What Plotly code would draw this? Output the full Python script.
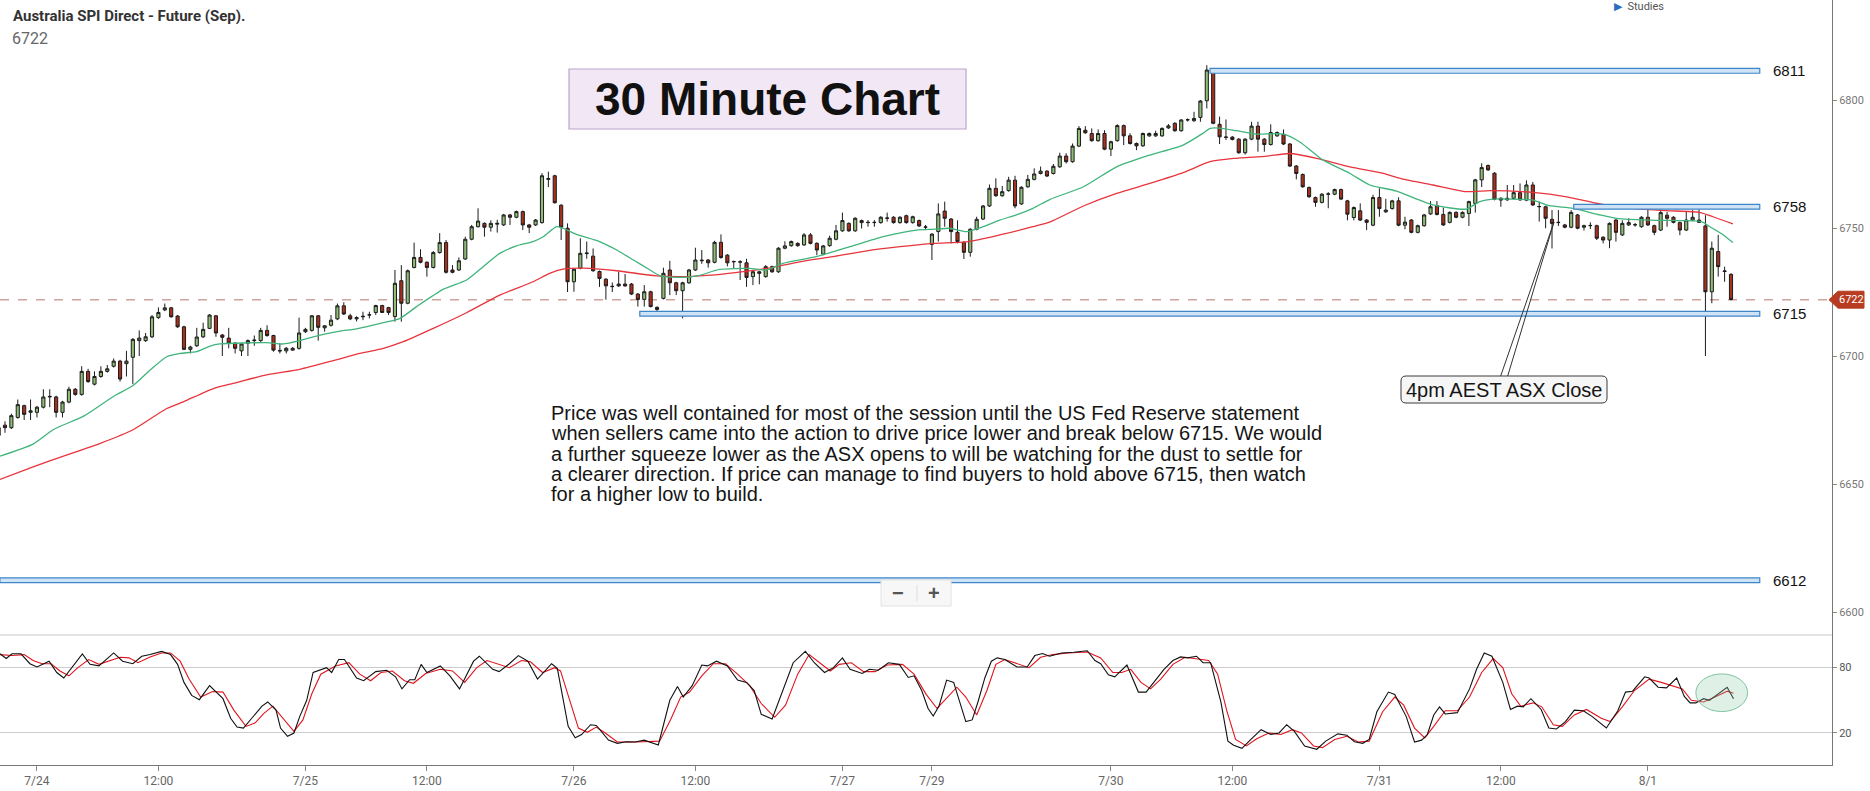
import plotly.graph_objects as go

# ---------------- data ----------------
bar_open = [6672,6673,6672,6676,6680.6,6678,6678,6680,6684,6684,6678,6682,6687,6685,6694,6689,6692,6694,6696,6698,
6697,6699.5,6706,6706,6707.5,6715,6718,6718.8,6715.6,6711.4,6702.6,6704,6707.5,6710.8,6715.7,6708.2,6707,6705,6702,6705,
6706,6706,6710,6708,6702.2,6702,6702.3,6703,6709.5,6710,6715.7,6711,6712,6714.5,6719.6,6715.7,6714.5,6715.3,6716,6717,
6719.7,6718.9,6715.4,6729.4,6720.6,6734.6,6738.5,6736.6,6734.6,6740.4,6744.3,6733.6,6733.6,6737.9,6745.6,6750.5,6751.8,6750.3,6751.5,6751.2,
6755.1,6754.2,6756.4,6751.2,6751.2,6752.1,6769,6770.4,6758.9,6749.9,6729,6734.3,6740,6739,6733,6730,6727.1,6728.1,6728.1,6728.1,
6724.2,6722.1,6725.1,6719,6722.5,6733.6,6728.6,6725.5,6728.6,6733.6,6737.2,6737.5,6736.6,6744.4,6739.4,6736.8,6736.8,6736.4,6731,6732.9,
6731,6734.9,6732.9,6742.1,6743.1,6744,6743.4,6747.3,6744,6739.8,6743.1,6745.6,6748.9,6751.8,6748.9,6752.9,6752.1,6752.1,6752.1,6753.8,
6754.2,6752.1,6754.8,6752.1,6752.9,6750.3,6743.6,6748.6,6756.6,6753.5,6748.3,6744.4,6740.5,6749.5,6753.5,6758.6,6765.5,6762.6,6764.6,6768.7,
6759.4,6766.1,6769,6771.3,6772.2,6771.3,6773.9,6778.1,6775.9,6782,6788.2,6786.9,6784.1,6786.9,6780.8,6784.1,6790,6786,6783,6782.1,
6786,6786,6786,6789.1,6790.9,6788,6792.2,6791.9,6793.2,6799.7,6811.7,6790.5,6785.4,6785.5,6784.7,6779.4,6784.7,6789.8,6784.7,6782.6,
6786,6786.6,6782.8,6774.2,6770.9,6765.8,6761.9,6760,6763.2,6763.2,6765,6760.6,6754.1,6756.7,6753.1,6751.1,6761.9,6756.3,6757.6,6760.6,
6751.1,6753.1,6748.3,6750.9,6755.5,6758.7,6755.3,6752.2,6756.1,6754.2,6755.7,6759.6,6768.8,6774.4,6771.4,6761.6,6761,6761.6,6763.8,6760.9,
6766.8,6758.3,6758.3,6753.4,6752.1,6751.2,6750.3,6755.1,6750.3,6750.9,6750.9,6746.4,6745.3,6753.1,6747.3,6751.2,6751.2,6750.5,6754.2,6750.9,
6749.2,6755,6754.2,6752.1,6749.2,6753.1,6753.1,6750.8,6725.1,6740.8,6733,6731.9]
bar_high = [6674,6674.5,6677.5,6683,6681,6683,6680.5,6687,6687,6684.5,6682.5,6688,6687.5,6696,6695,6694,6696,6696.5,6699,6698.5,
6702,6707,6710,6709,6716,6719,6720.5,6719.2,6716,6711.8,6704,6711,6713,6716.3,6716,6708.6,6711,6705.4,6705,6706.5,
6708,6711,6712,6708.3,6705,6703.5,6703.5,6715,6711,6716,6716,6712,6716,6720.5,6721,6716.5,6715.5,6717.3,6717.3,6720,
6720,6719.2,6733.6,6735.5,6733.8,6744.3,6741.7,6737,6741,6748,6745.3,6735.5,6738.5,6746.6,6751.2,6757.7,6752.2,6753,6753.2,6755.5,
6755.5,6756.8,6756.8,6751.6,6753.5,6771.4,6772,6770.8,6759.3,6751.8,6734.3,6746,6744.7,6742,6733.4,6730.4,6728.7,6733,6732,6728.5,
6724.6,6727.7,6725.5,6719.4,6734.5,6737.2,6729,6729,6734,6742.3,6741.4,6737.9,6745,6747.5,6739.8,6737.3,6737.4,6738,6733.3,6733.3,
6735.5,6735.3,6742.5,6744.8,6745.1,6744.4,6748,6748,6744.4,6743.4,6747,6751.2,6756,6752.2,6754.2,6753.3,6753.1,6753.1,6754.6,6756,
6754.6,6754.6,6755.2,6754.8,6753.3,6751.2,6748,6759.6,6760.3,6753.9,6753,6744.8,6749.9,6754.4,6759,6767,6769.4,6766.4,6770,6770.4,
6766.3,6770.7,6773.3,6774,6772.6,6775,6779.4,6779.2,6783,6789.8,6789.8,6788.9,6788.5,6788.2,6784.1,6790.5,6790.4,6787,6783.4,6787.3,
6787.3,6788,6789.3,6790.6,6791.3,6792.5,6792.8,6795.4,6800,6813.6,6812,6793.5,6792.4,6785.9,6785.1,6785.1,6791.5,6791.5,6785.1,6790.5,
6787.7,6788.5,6783.2,6774.6,6771.3,6766.2,6762.3,6763.6,6764,6765.4,6765.4,6761,6758.4,6759.6,6753.5,6763,6765.5,6761.4,6761,6762,
6754.4,6753.5,6751.3,6755.5,6760.5,6760.5,6758,6756.5,6756.5,6756.5,6760.7,6769.2,6775.3,6774.8,6771.8,6762,6766.8,6766.8,6767.4,6768.6,
6768,6760.3,6758.7,6757,6757,6751.6,6757,6755.5,6751.3,6752.2,6751.3,6746.8,6752.2,6753.5,6753,6753.8,6752,6754.6,6757.3,6751.3,
6759,6756.3,6754.6,6752.5,6756.4,6757,6757.7,6755,6744.7,6747.3,6734.9,6732.3]
bar_low = [6668,6670,6671.5,6675.5,6675,6675,6676,6679.5,6680,6676,6676,6681.5,6684.5,6684.5,6689.5,6688.5,6691.5,6693.5,6695.5,6690,
6692,6689,6700,6705.5,6707,6714.5,6717.5,6715,6711,6702.3,6701,6703.5,6707,6710.5,6707.5,6700,6703,6701,6700,6700,
6704,6705.5,6707.5,6701.7,6701,6701,6702,6702.5,6709,6709.5,6706,6709.5,6711.5,6714,6716,6714,6713.5,6714,6714.7,6716,
6716.8,6716,6713.4,6713.4,6720.2,6734.2,6736.2,6731,6734.2,6740,6732.2,6732.3,6733.2,6737.5,6745.2,6750.2,6746.6,6748.6,6748.2,6750.8,
6751.2,6753.8,6749.2,6748,6750.8,6751.7,6766,6759.5,6745.3,6725,6725.1,6733.9,6738,6732.9,6727,6722,6725,6727,6727,6723.8,
6719.3,6719.3,6719,6717.3,6722.1,6723.8,6723.8,6714.7,6728.2,6733.2,6736,6734.5,6736.2,6738,6735,6734,6729.7,6727,6727.7,6728,
6730.6,6732.5,6732.5,6741.7,6742.7,6742.7,6743,6743.6,6739.4,6739.4,6742.7,6745.2,6748.5,6748.5,6748.5,6749.8,6750.5,6750.5,6751.7,6752.5,
6751.7,6751.7,6751.7,6751.7,6750.4,6749.2,6737.5,6744.7,6750.5,6744,6744,6737.9,6738.8,6749.1,6753.1,6758.2,6762.2,6762.2,6764.2,6757.7,
6759,6765.7,6768.6,6770.9,6769.9,6770.9,6773.5,6775.2,6775.5,6781.6,6786.8,6783.7,6783.7,6780.4,6778.1,6783.7,6782.4,6782.6,6780.4,6781.7,
6785.6,6785.6,6785.6,6788.7,6787.6,6787.6,6791.6,6791.5,6791.5,6796.7,6790.5,6782.8,6784.4,6784.2,6779,6778.7,6784.3,6779.8,6779.8,6782.2,
6785.6,6782.4,6773.8,6769,6765.7,6761.8,6758.3,6759.6,6757.7,6762.8,6760.9,6753,6753,6752.7,6749.2,6750.7,6754.4,6755.9,6757.2,6750.7,
6749.5,6747.9,6747.9,6750.5,6755.1,6754.9,6750.8,6751.8,6753.8,6753.8,6750.8,6756,6766,6772.3,6760.8,6758.3,6760.6,6761.2,6760.6,6760.5,
6758.6,6752.5,6749.9,6742,6750.8,6749.9,6749.9,6749.5,6749,6749.6,6745.3,6744,6742.1,6744.7,6746.9,6750.8,6750.5,6750.1,6750.8,6747.2,
6748.8,6750.5,6751.8,6747.2,6748.8,6752.7,6752,6700,6720.6,6731,6729,6721.7]
bar_close = [6669,6672,6676.7,6681,6677.2,6678.6,6680,6684,6684.2,6678,6682,6687,6685,6694,6690,6692,6694,6695,6698,6691,
6698,6706.5,6707,6707.5,6715.3,6717,6718.8,6715.3,6711.4,6702.6,6703.5,6707.4,6710.4,6716,6709,6707.3,6705,6703,6704.7,6706,
6706.2,6710,6708,6702.3,6702,6703,6703,6709,6710.4,6715.7,6711.2,6711.8,6714,6719.6,6716.4,6714.5,6715,6715.5,6716.1,6719.7,
6717,6717,6728.4,6720.6,6733.3,6738.5,6736.6,6734.6,6740.4,6744.3,6732.7,6732.7,6737.2,6745.6,6750.5,6752.7,6750.3,6751.8,6751.8,6755.1,
6754.2,6756.4,6751.2,6750.3,6753.1,6770.4,6769.3,6759.9,6750.3,6729,6733.9,6740.1,6740.2,6733.3,6730.3,6727.4,6727.2,6727.4,6727.4,6724.2,
6722.1,6725.1,6719.3,6718.2,6732.3,6728.6,6725.5,6728.6,6733.6,6737.5,6737.4,6736.4,6744.4,6738.5,6736.4,6736.9,6736.7,6730.7,6732.9,6732.3,
6734.9,6732.9,6742.1,6743,6744.7,6743.1,6747.3,6744,6741.4,6743,6746,6748.9,6752.9,6748.9,6753.8,6752.1,6752.2,6752.2,6754.2,6753.9,
6752.1,6754.2,6752.1,6754.4,6750.8,6750.4,6747.6,6755.5,6753.8,6748.6,6744.7,6740.5,6749.5,6753.4,6758.6,6765.5,6762.6,6764.2,6768.7,6758.6,
6765.9,6769,6771.1,6772.2,6770.3,6774.1,6778.1,6775.9,6782,6788.9,6787.2,6784.1,6786.9,6780.8,6783.7,6790,6786,6783,6782.1,6786.9,
6786.9,6786.9,6788.9,6789.9,6788,6792.2,6792.3,6792.8,6799.6,6811.7,6790.9,6785.6,6785.5,6784.6,6779.4,6784.7,6789.8,6784.7,6782.6,6787.3,
6787.3,6782.8,6774.2,6771.3,6766.1,6762.2,6760,6763.2,6763.3,6765,6761.3,6755.4,6758,6753.1,6752.2,6761.9,6757.6,6757,6760.6,6751.1,
6752.3,6748.3,6750.9,6755.1,6758.3,6755.3,6751.2,6756.1,6754.2,6756.1,6760.3,6768.8,6773.6,6772.7,6761.2,6760.9,6761.6,6763.8,6761,6766.8,
6759,6758.4,6753.8,6751.8,6752.2,6750.3,6756.1,6749.9,6750.9,6751,6746,6745.3,6751.8,6748.3,6751.8,6752.1,6751.3,6754.2,6751.2,6748.3,
6756,6753.8,6752.2,6749.2,6753.1,6754.2,6752.2,6725.1,6742.1,6734.9,6733.2,6722.1]
bar_index = list(range(len(bar_close)))

# moving averages (bar index, price)
ma_fast_idx = [0.2,5.4,8.6,13.3,17.9,21.1,23.7,26.3,28.4,31.0,33.1,34.6,41.9,44.5,47.1,50.3,53.4,56.0,60.2,62.8,
65.4,69.6,73.2,75.8,78.4,81.0,83.6,85.2,87.3,88.3,90.4,94.0,96.7,99.3,101.9,103.5,107.1,109.5,112.8,117.5,
120.1,122.7,127.9,133.2,138.4,143.6,146.2,148.8,151.4,154.0,156.6,159.2,161.8,164.5,169.7,174.9,180.1,185.3,188.4,189.5,
191.0,193.6,196.8,201.0,203.5,207.2,211.4,214.5,218.7,224.4,229.6,231.7,233.8,236.4,240.0,242.6,246.3,250.5,253.1,258.3,
263.5,266.4,267.7,269.8,271.3]
ma_fast_val = [6660.9,6665.6,6671.3,6676.5,6684.1,6688.6,6694.5,6699.7,6701,6701.7,6703.9,6704.7,6705.2,6704.7,6706,6708.2,6709.7,6710.6,6713,6714.7,
6719.3,6726.1,6729.7,6734.9,6740.1,6743,6744.7,6746.6,6750.5,6749.9,6747.5,6744.7,6741.4,6737.5,6733.6,6731.3,6730.7,6731.4,6733.8,6734.2,
6733.6,6736.2,6738.8,6742.7,6746.6,6749.2,6749.5,6749.9,6748.6,6750.5,6753.1,6755.1,6757.7,6761.2,6766.1,6773.9,6778.5,6782.4,6787,6788.9,
6789,6788,6786.7,6786.7,6783.7,6776.5,6771.3,6766.8,6764.4,6759,6757.4,6760.3,6761.3,6761.3,6760.9,6758.7,6757.7,6755.1,6753.8,6753.1,
6752.9,6752.5,6750.5,6747.3,6744.3]
ma_slow_idx = [0.2,5.4,10.6,15.9,21.1,26.3,28.9,33.6,36.7,41.9,47.1,52.4,56.5,60.2,63.3,68.0,73.2,78.4,83.6,86.2,
88.3,91.5,96.7,102.9,107.1,111.5,114.9,120.1,125.3,130.5,135.8,141.0,146.2,151.4,156.6,161.8,164.5,169.7,174.9,180.1,
185.3,189.5,193.2,198.4,202.0,206.2,211.4,216.6,219.5,224.4,229.6,233.3,240.0,245.3,250.5,255.7,260.9,266.1,268.2,271.3]
ma_slow_val = [6651.8,6656.7,6661.3,6665.9,6671.3,6679.5,6682.1,6687.3,6689.3,6692.6,6694.8,6698.2,6701,6703,6705.6,6710.8,6716.9,6723.8,6729,6732.3,
6733.9,6734.3,6733.3,6731.3,6731,6731.6,6732.5,6734.2,6736.8,6738.8,6741.1,6742.7,6744,6744.6,6747.3,6750.5,6752.4,6758.6,6763.5,6767.4,
6771.6,6775.9,6777.2,6778.1,6779.1,6777.2,6773.9,6771.3,6769.2,6766.8,6764.2,6764.6,6763.9,6762.2,6759.4,6757.7,6756.8,6756.1,6754.4,6751.6]

# stochastic %K (black) and %D (red)
stoch_k_idx = [0.2,1.2,2.1,3.5,4.9,6.0,7.9,9.1,10.2,11.5,13.1,14.3,15.7,18.0,19.4,21.0,22.4,23.7,25.5,26.9,
28.0,29.0,30.2,31.4,33.0,35.1,36.3,37.3,38.3,39.6,41.2,42.1,43.4,44.1,45.2,46.2,47.1,48.2,49.2,51.3,
52.1,53.2,54.1,56.0,57.1,59.0,60.7,62.1,63.1,64.3,65.1,66.1,67.0,69.1,70.6,72.1,74.3,75.2,77.3,78.3,
79.9,81.3,82.8,84.3,85.8,86.5,87.4,89.1,90.2,91.2,92.6,93.5,95.4,96.8,98.2,99.6,101.0,102.0,103.2,105.0,
106.2,107.1,108.5,110.0,110.9,112.3,114.0,115.6,117.0,118.2,119.3,121.0,122.6,124.3,126.2,127.6,129.2,130.6,132.0,133.2,
135.1,136.2,137.6,139.2,140.9,142.3,143.2,144.4,145.4,146.2,
147.1,148.3,149.4,151.3,152.3,153.2,154.3,155.3,156.2,157.4,159.3,160.9,162.1,163.3,164.4,166.3,168.2,170.3,171.5,172.4,
173.6,174.6,176.5,178.3,179.5,180.9,182.3,183.7,184.9,186.0,187.4,188.4,189.6,191.2,192.3,193.2,194.5,195.9,197.5,199.0,
200.3,201.5,202.7,204.3,206.2,207.6,209.5,210.9,212.1,213.4,214.4,215.6,217.4,218.4,220.2,221.5,222.6,223.5,224.5,225.4,
226.3,228.2,230.1,231.2,232.4,233.6,235.3,236.5,237.6,238.5,239.7,241.3,242.5,243.7,245.1,246.5,247.9,249.3,251.5,253.3,
254.5,255.6,257.5,258.2,259.6,260.9,262.5,263.7,264.6,265.5,266.7,267.6,270.4,271.4]
stoch_k_val = [92.2,87.7,92,92,83,80,85.3,75,70,80,92,82.4,81,92.8,85.3,83,89.8,91.3,94.2,91.3,
82.4,66,54.2,50.3,63,51.2,33.4,25.4,24.5,33.4,44.4,48.2,40.8,24.5,17,20,34.9,49.7,75,79.4,
75,86.8,86.8,70,67.5,75.8,77,71.1,60.1,68.4,68.4,82.4,75,81,72,60.1,85.3,89.8,77.9,75.8,
83,90.4,85.3,69,77.9,83,78.8,26,15.6,18.6,27.5,26.9,13.5,10.6,12,11.8,13.5,11.8,9.1,49.7,
62.2,52.7,63,81.8,81,85.3,81,68.1,66,58.6,37,32.8,57.2,83.9,94.2,83.9,75,79.4,88.3,77.9,
74.1,77.9,77,83.9,82.4,70.5,72,58.6,42.3,35.5,
44.4,68.1,66,30.4,31.9,48.2,70.5,85.3,88.3,86.8,80,80,90.4,92.2,89.8,92.8,93.4,94.8,85.9,83,
72.9,71.1,81.8,57.2,57.2,67.5,77.9,85.9,89.2,88.3,89.8,83.9,83.9,48.2,12.6,8.8,6.1,14.1,23,18.6,
20,27.5,21.5,8.2,5.2,12.6,19.2,18,12,10.6,14.1,39.3,57.2,55.1,34.9,11.8,13.5,18.6,36.4,43.8,
37.3,38.5,60.1,77.9,92.8,89.8,66,41.4,44.4,43.8,51.2,41.4,24.5,23.6,30.4,40.8,40.2,34.9,24.5,40.2,
57.2,58,71.1,70,61.6,61,70,53.3,47.4,47.4,51.2,49.7,61.6,51.2]
stoch_d_idx = [0.2,2.1,4.0,5.4,6.8,8.2,9.6,11.0,12.4,14.1,15.7,17.1,19.0,20.4,21.8,23.7,25.5,26.9,28.4,29.8,
31.6,33.5,35.1,36.8,38.7,40.1,41.5,42.9,44.3,46.2,47.6,49.0,50.4,52.7,54.8,56.5,58.2,59.8,61.6,63.5,
64.9,66.8,69.1,71.0,72.9,74.8,76.4,78.1,79.9,81.8,83.2,85.1,87.0,87.9,89.3,90.7,92.1,93.5,94.9,96.8,
99.6,102.0,103.4,105.1,106.7,108.1,110.0,111.8,113.7,115.6,117.5,119.3,121.4,123.1,125.0,126.8,128.2,130.1,131.5,133.4,
135.3,137.1,139.0,141.4,143.2,145.1,
146.8,148.3,149.9,151.3,153.0,154.6,156.0,157.4,158.8,161.2,163.0,164.9,167.3,170.3,172.4,174.3,175.7,177.1,178.7,180.2,
181.8,183.7,185.6,187.4,189.3,190.7,192.1,193.5,195.2,196.8,198.7,200.6,202.4,203.8,205.7,207.1,209.0,210.9,212.7,214.4,
216.5,218.4,219.8,221.5,223.1,224.5,226.3,228.2,230.1,232.0,233.8,235.3,236.7,238.1,240.0,241.4,243.2,244.6,246.5,248.4,
250.7,252.1,254.0,255.9,258.2,260.1,262.0,263.4,264.8,266.7,268.5,270.4,271.4]
stoch_d_val = [91.3,90.4,91.3,85.9,83,83,76.4,72,79.4,86.8,82.4,85.3,88.9,88.3,83.9,89.2,92.8,92.8,85.3,69,
52.7,57.7,57.2,40.8,26,29,37.9,44.4,34.9,21.5,31.9,55.7,73.5,81,83.9,73.5,67.5,75,76.4,67.5,
65.2,74.1,77.9,76.4,66,79.4,85.9,82.4,79.4,85.9,84.7,75,79.4,76.4,49.7,24.5,20.6,25.4,20,11.8,
11.8,12,12.6,31.9,52.7,57.2,72,83,83,73.5,63,46.8,34.3,45.3,73.5,91.3,85.3,76.4,82.4,83.9,
75.8,75.8,81.8,82.4,73.5,55.1,
42.3,51.2,61.6,52.7,36.4,58.6,82.4,86.8,83.9,79.4,88.9,91.3,92.8,93.6,88.3,75,75,77.9,66,60.1,
69,82.4,88.9,87.7,85.9,73.5,40.8,14.1,8.2,14.7,20,18.6,23,20,8.2,6.7,14.1,17,11.8,12.6,
39.3,52.7,45.3,24.5,15.6,26,40.2,40.2,52.7,75,87.7,79.4,55.7,44.4,47.4,43.8,27.5,26,36.4,41.4,
33.4,30.4,43.8,58.6,69,66,63,60.1,49.7,48.2,52.7,58,56.2]

# time axis labels (bar index of each label)
tick_bar = [6,25,48,67,90,109,132,146,174,193,216,235,258]
tick_text = ["7/24","12:00","7/25","12:00","7/26","12:00","7/27","7/29","7/30","12:00","7/31","12:00","8/1"]

# horizontal support / resistance levels (label, drawn price as read, starting bar)
level_label = [6811,6758,6715,6612]
level_price = [6811.4,6758.3,6716.5,6612.4]
level_start_bar = [189.5,246.4,100.3,0.2]
level_end_bar = 275.5
last_price = 6722

price_ticks = [6600,6650,6700,6750,6800]
stoch_ticks = [20,80]

note_lines = [
    "Price was well contained for most of the session until the US Fed Reserve statement",
    "when sellers came into the action to drive price lower and break below 6715. We would",
    "a further squeeze lower as the ASX opens to will be watching for the dust to settle for",
    "a clearer direction. If price can manage to find buyers to hold above 6715, then watch",
    "for a higher low to build.",
]

# ---------------- layout helpers ----------------
W, H = 1870, 791
ML, MR, MT, MB = 0, 38, 0, 26
PW, PH = W - ML - MR, H - MT - MB
def px(x):
    return (x - ML) / PW
def py(y):
    return (PH + MT - y) / PH

SPLIT = py(635)
X_RANGE = [0.219, 286.8]
SANS = "Liberation Sans, Arial, sans-serif"
ROBOTO = "Roboto, sans-serif"

fig = go.Figure()

fig.add_trace(go.Candlestick(
    x=bar_index, open=bar_open, high=bar_high, low=bar_low, close=bar_close,
    increasing=dict(fillcolor="#8fbd77", line=dict(color="#1c1c1c", width=1)),
    decreasing=dict(fillcolor="#a8301d", line=dict(color="#1c1c1c", width=1)),
    whiskerwidth=0, xaxis="x", yaxis="y", hoverinfo="skip"))

fig.add_trace(go.Scatter(x=ma_slow_idx, y=ma_slow_val, mode="lines",
    line=dict(color="#e8343c", width=1.3, shape="spline", smoothing=0.6),
    xaxis="x", yaxis="y", hoverinfo="skip"))
fig.add_trace(go.Scatter(x=ma_fast_idx, y=ma_fast_val, mode="lines",
    line=dict(color="#3fb47c", width=1.3, shape="spline", smoothing=0.6),
    xaxis="x", yaxis="y", hoverinfo="skip"))

fig.add_trace(go.Scatter(x=stoch_d_idx, y=stoch_d_val, mode="lines",
    line=dict(color="#e0141e", width=1.1), xaxis="x", yaxis="y2", hoverinfo="skip"))
fig.add_trace(go.Scatter(x=stoch_k_idx, y=stoch_k_val, mode="lines",
    line=dict(color="#111111", width=1.1), xaxis="x", yaxis="y2", hoverinfo="skip"))

shapes = []
# panel separator
shapes.append(dict(type="line", xref="paper", yref="paper", x0=0, x1=1, y0=SPLIT, y1=SPLIT,
                   line=dict(color="#c9c9c9", width=1)))
# last price dashed line
shapes.append(dict(type="line", xref="paper", yref="y", x0=0, x1=1, y0=last_price, y1=last_price,
                   line=dict(color="#d2a39b", width=1.5, dash="dash"), layer="below"))
# level boxes
for lv, sb in zip(level_price, level_start_bar):
    shapes.append(dict(type="rect", xref="x", yref="y", x0=sb, x1=level_end_bar,
                       y0=lv - 0.95, y1=lv + 0.95,
                       fillcolor="#cfe3f6", line=dict(color="#3f86c8", width=1.2)))
# price tag
ty0, ty1 = last_price - 3.3, last_price + 3.3
shapes.append(dict(type="path", xref="paper", yref="y",
    path=f"M {px(1829)},{last_price} L {px(1838)},{ty1} L {px(1864)},{ty1} L {px(1864)},{ty0} L {px(1838)},{ty0} Z",
    fillcolor="#b73c22", line=dict(color="#b73c22", width=1)))
# title box
shapes.append(dict(type="rect", xref="paper", yref="paper", x0=px(569), x1=px(966), y0=py(129), y1=py(69),
                   fillcolor="#f2e8f5", line=dict(color="#bba4cb", width=1.2)))
# callout lines
for xb in (1500.7, 1507.7):
    shapes.append(dict(type="line", xref="paper", yref="paper", x0=px(1554), y0=py(222), x1=px(xb), y1=py(376),
                       line=dict(color="#333333", width=1)))
# callout rounded box
bx0, bx1, by0, by1, r = 1401, 1607, 376, 403, 5
pts = (f"M {px(bx0+r)},{py(by0)} L {px(bx1-r)},{py(by0)} Q {px(bx1)},{py(by0)} {px(bx1)},{py(by0+r)} "
       f"L {px(bx1)},{py(by1-r)} Q {px(bx1)},{py(by1)} {px(bx1-r)},{py(by1)} "
       f"L {px(bx0+r)},{py(by1)} Q {px(bx0)},{py(by1)} {px(bx0)},{py(by1-r)} "
       f"L {px(bx0)},{py(by0+r)} Q {px(bx0)},{py(by0)} {px(bx0+r)},{py(by0)} Z")
shapes.append(dict(type="path", xref="paper", yref="paper", path=pts,
                   fillcolor="#f6f6f6", line=dict(color="#3a3a3a", width=1)))
# zoom buttons
shapes.append(dict(type="rect", xref="paper", yref="paper", x0=px(881), x1=px(951), y0=py(606), y1=py(580),
                   fillcolor="#f7f7f7", line=dict(color="#e2e2e2", width=1)))
shapes.append(dict(type="line", xref="paper", yref="paper", x0=px(917), x1=px(917), y0=py(601), y1=py(585),
                   line=dict(color="#dddddd", width=1)))
# stochastic highlight ellipse
shapes.append(dict(type="circle", xref="x", yref="y2", x0=265.5, x1=273.6, y0=39.5, y1=73.7,
                   fillcolor="rgba(150,205,175,0.30)", line=dict(color="#7fc4a3", width=1)))

ann = []
ann.append(dict(xref="paper", yref="paper", x=px(11), y=py(16), xanchor="left", yanchor="middle",
                text="<b>Australia SPI Direct - Future (Sep).</b>", showarrow=False,
                font=dict(family=ROBOTO, size=15, color="#333333")))
ann.append(dict(xref="paper", yref="paper", x=px(10), y=py(38), xanchor="left", yanchor="middle",
                text=str(last_price), showarrow=False, font=dict(family=ROBOTO, size=16, color="#666666")))
ann.append(dict(xref="paper", yref="paper", x=px(1612), y=py(7), xanchor="left", yanchor="middle",
                text="<span style='color:#2a6fc0'>▶</span>  Studies", showarrow=False,
                font=dict(family=ROBOTO, size=11, color="#555555")))
ann.append(dict(xref="paper", yref="paper", x=px(767.5), y=py(99), xanchor="center", yanchor="middle",
                text="<b>30 Minute Chart</b>", showarrow=False, font=dict(family=SANS, size=46, color="#111111")))
for k, line in enumerate(note_lines):
    ann.append(dict(xref="paper", yref="paper", x=px(549), y=py(413 + 20.3 * k), xanchor="left", yanchor="middle",
                    text=line, showarrow=False, font=dict(family=SANS, size=20, color="#151515")))
ann.append(dict(xref="paper", yref="paper", x=px(1404), y=py(390), xanchor="left", yanchor="middle",
                text="4pm AEST ASX Close", showarrow=False, font=dict(family=SANS, size=20, color="#151515")))
for lab, lv in zip(level_label, level_price):
    ann.append(dict(xref="x", yref="y", x=277.2, y=lv, xanchor="left", yanchor="middle", text=str(lab),
                    showarrow=False, font=dict(family=SANS, size=15, color="#111111")))
ann.append(dict(xref="paper", yref="y", x=px(1851), y=last_price, xanchor="center", yanchor="middle",
                text=str(last_price), showarrow=False, font=dict(family=ROBOTO, size=11, color="#ffffff")))
ann.append(dict(xref="paper", yref="paper", x=px(898), y=py(593), xanchor="center", yanchor="middle",
                text="<b>−</b>", showarrow=False, font=dict(family=SANS, size=20, color="#555555")))
ann.append(dict(xref="paper", yref="paper", x=px(934), y=py(593), xanchor="center", yanchor="middle",
                text="<b>+</b>", showarrow=False, font=dict(family=SANS, size=20, color="#555555")))

fig.update_layout(
    width=W, height=H, margin=dict(l=ML, r=MR, t=MT, b=MB),
    paper_bgcolor="white", plot_bgcolor="white", showlegend=False, hovermode=False,
    shapes=shapes, annotations=ann,
    xaxis=dict(domain=[0, 1], range=X_RANGE, anchor="y2", tickmode="array", tickvals=tick_bar, ticktext=tick_text,
               ticks="outside", ticklen=5, tickcolor="#888888", showline=True, linecolor="#777777",
               tickfont=dict(family=ROBOTO, size=12, color="#666666"), showgrid=False, zeroline=False,
               rangeslider=dict(visible=False)),
    yaxis=dict(domain=[SPLIT, 1], range=[6591.02, 6839.06], side="right", anchor="x",
               tickmode="array", tickvals=price_ticks, ticks="outside", ticklen=4, tickcolor="#888888",
               showline=True, linecolor="#777777", tickfont=dict(family=ROBOTO, size=11, color="#777777"),
               showgrid=False, zeroline=False),
    yaxis2=dict(domain=[0, SPLIT], range=[-9.1, 109.1], side="right", anchor="x",
                tickmode="array", tickvals=stoch_ticks, ticks="outside", ticklen=4, tickcolor="#888888",
                showline=True, linecolor="#777777", tickfont=dict(family=ROBOTO, size=11, color="#555555"),
                showgrid=True, gridcolor="#cccccc", zeroline=False),
)

fig.write_html("out.html", config={"displayModeBar": False},
               post_script="document.body.style.margin='0';document.body.style.overflow='hidden';")
